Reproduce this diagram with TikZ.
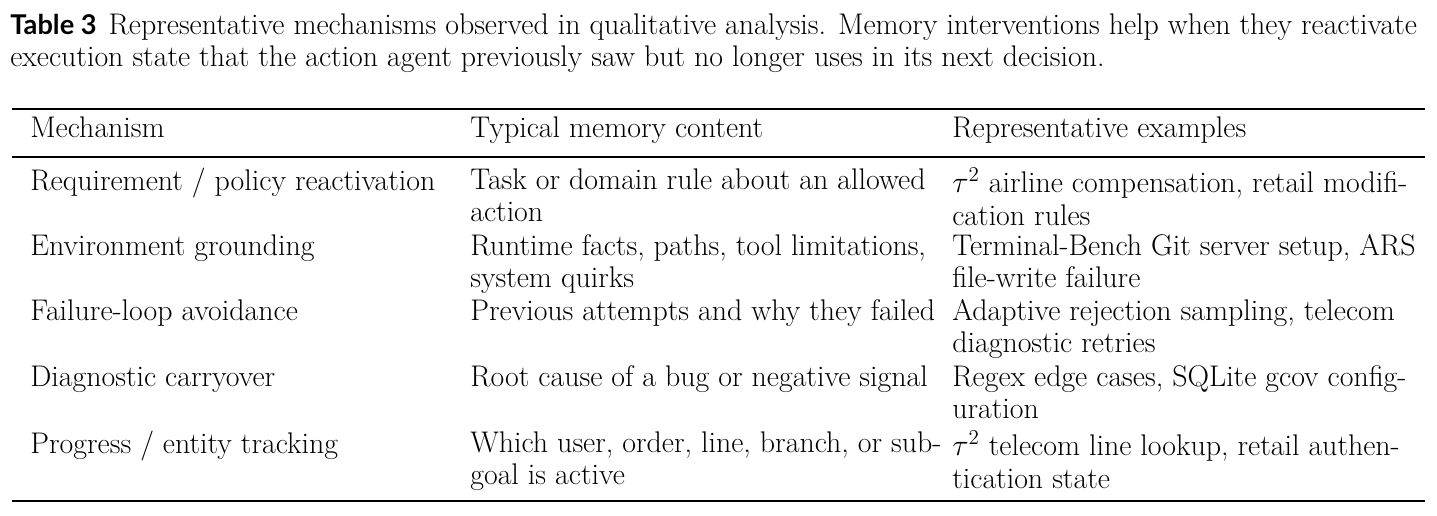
\documentclass[tikz,border=0pt]{standalone}
\usepackage{fontspec}
\newfontfamily\capfont{Lato}
\usetikzlibrary{positioning}
\tikzset{
  cell/.style={anchor=north west,inner sep=0pt,align=left,
    font=\fontsize{17}{18.4}\selectfont,execute at begin node=\rule{0pt}{12pt}},
  bigrule/.style={line width=1.6pt},
  smallrule/.style={line width=0.8pt}
}
\begin{document}
\begin{tikzpicture}[x=0.02cm,y=-0.02cm]
  \useasboundingbox (0,0) rectangle (1437,515);
  % caption
  \node[cell] (cap1) at (10,13) {{\capfont\bfseries\fontsize{15.5}{17}\selectfont Table 3}\hspace{0.4em}Representative mechanisms observed in qualitative analysis. Memory interventions help when they reactivate};
  \node[cell] (cap2) at (10,45) {execution state that the action agent previously saw but no longer uses in its next decision.};
  % rules
  \draw[bigrule] (12,109) -- (1425,109);
  \draw[smallrule] (12,157) -- (1425,157);
  \draw[bigrule] (12,501) -- (1425,501);
  % header
  \node[cell] (h1) at (30,116) {Mechanism};
  \node[cell] (h2) at (470,116) {Typical memory content};
  \node[cell] (h3) at (952,116) {Representative examples};
  % body
  \node[cell] (m1) at (30,168) {Requirement / policy reactivation};
  \node[cell] (c1) at (470,168) {Task or domain rule about an allowed\\action};
  \node[cell] (e1) at (952,168) {$\tau^2$ airline compensation, retail modifi-\\cation rules};
  \node[cell] (m2) at (30,234) {Environment grounding};
  \node[cell] (c2) at (470,234) {Runtime facts, paths, tool limitations,\\system quirks};
  \node[cell] (e2) at (952,234) {Terminal-Bench Git server setup, ARS\\file-write failure};
  \node[cell] (m3) at (30,299) {Failure-loop avoidance};
  \node[cell] (c3) at (470,299) {Previous attempts and why they failed};
  \node[cell] (e3) at (952,299) {Adaptive rejection sampling, telecom\\diagnostic retries};
  \node[cell] (m4) at (30,365) {Diagnostic carryover};
  \node[cell] (c4) at (470,365) {Root cause of a bug or negative signal};
  \node[cell] (e4) at (952,365) {Regex edge cases, SQLite gcov config-\\uration};
  \node[cell] (m5) at (30,431) {Progress / entity tracking};
  \node[cell] (c5) at (470,431) {Which user, order, line, branch, or sub-\\goal is active};
  \node[cell] (e5) at (952,431) {$\tau^2$ telecom line lookup, retail authen-\\tication state};
\end{tikzpicture}
\end{document}
